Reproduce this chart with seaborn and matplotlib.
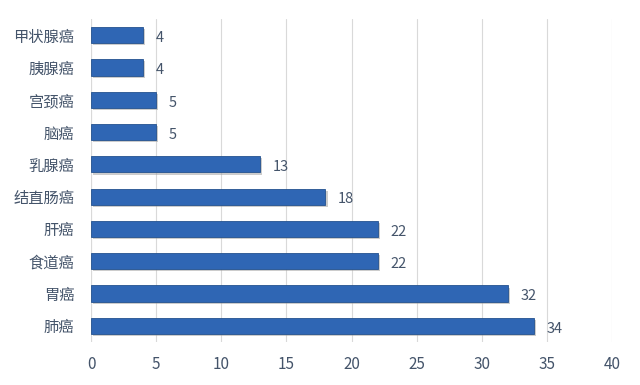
import matplotlib
matplotlib.use("Agg")
import matplotlib.pyplot as plt
import matplotlib.patheffects as pe
import seaborn as sns
import pandas as pd

categories = ["甲状腺癌", "胰腺癌", "宫颈癌", "脑癌", "乳腺癌", "结直肠癌", "肝癌", "食道癌", "胃癌", "肺癌"]
values = [4, 4, 5, 5, 13, 18, 22, 22, 32, 34]
xticks = [0, 5, 10, 15, 20, 25, 30, 35, 40]

sns.set_theme(style="white")
plt.rcParams['font.family'] = ['Noto Sans CJK SC', 'DejaVu Sans']

df = pd.DataFrame({"cat": categories, "val": values})
fig = plt.figure(figsize=(6.4, 3.85), dpi=100)
ax = fig.add_axes([91/640, 1-342/385, (612-91)/640, (342-19)/385])

text_color = "#44546A"
sns.barplot(data=df, x="val", y="cat", orient="h", color="#2F66B4", width=0.5,
            saturation=1, ax=ax, zorder=3, edgecolor="#24528F", linewidth=0.6)

for p in ax.patches:
    p.set_path_effects([pe.SimplePatchShadow(offset=(1.5, -1.5), shadow_rgbFace="#9A9A9A", alpha=0.5),
                        pe.Normal()])

for p, v in zip(ax.patches, values):
    y = p.get_y() + p.get_height() / 2
    ax.annotate(str(v), (p.get_width(), y), xytext=(9, -2), textcoords="offset points",
                ha="left", va="center", fontsize=10.5, color=text_color)

ax.set_xlim(0, 40)
ax.set_xticks(xticks)
ax.set_xticklabels([str(t) for t in xticks])
ax.set_xlabel("")
ax.set_ylabel("")
ax.grid(axis="x", color="#D9D9D9", linewidth=0.8, zorder=0)
ax.grid(axis="y", visible=False)
for s in ax.spines.values():
    s.set_visible(False)
ax.axvline(0, color="#D9D9D9", linewidth=0.8, zorder=1)
ax.tick_params(axis="both", length=0, labelsize=11, colors=text_color)
ax.tick_params(axis="x", pad=10)
ax.tick_params(axis="y", pad=12)

fig.savefig("out.png", dpi=100)
